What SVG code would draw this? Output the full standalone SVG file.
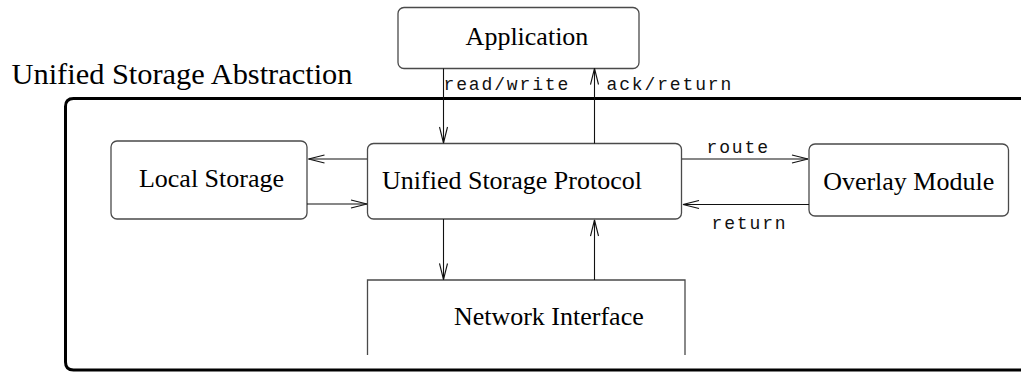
<svg xmlns="http://www.w3.org/2000/svg" width="1021" height="373" viewBox="0 0 1021 373">
  <style>
    .box { fill: #fff; stroke: #4a4a4a; stroke-width: 1.3; }
    .frame { fill: none; stroke: #000; stroke-width: 3; }
    .edge { fill: none; stroke: #111; stroke-width: 1.1; marker-end: url(#open); }
    .name { font-family: "Liberation Serif", "Times New Roman", serif; font-size: 26px; fill: #000; text-anchor: middle; }
    .title { font-family: "Liberation Serif", "Times New Roman", serif; font-size: 30.4px; fill: #000; }
    .tag { font-family: "Liberation Mono", "Courier New", monospace; font-size: 18px; letter-spacing: 1.87px; fill: #111; }
  </style>
  <defs>
    <marker id="open" markerUnits="userSpaceOnUse" viewBox="-17 -5 18 10" refX="0" refY="0" markerWidth="18" markerHeight="10" orient="auto">
      <path d="M-16,-4 L0,0 L-16,4" fill="none" stroke="#111" stroke-width="1.1"/>
    </marker>
  </defs>

  <rect width="1021" height="373" fill="#fff"/>

  <!-- abstraction boundary, open to the right -->
  <g id="abstraction">
    <path class="frame" d="M1025,98.5 H73.5 Q65.5,98.5 65.5,106.5 V362 Q65.5,370 73.5,370 H1025"/>
    <text class="title" x="11.5" y="83.5">Unified Storage Abstraction</text>
  </g>

  <g id="application">
    <rect class="box" x="398" y="7.5" width="241" height="61" rx="6"/>
    <text class="name" x="527" y="44.5">Application</text>
  </g>

  <g id="local-storage">
    <rect class="box" x="111" y="141" width="196" height="78" rx="6"/>
    <text class="name" x="211.5" y="187">Local Storage</text>
  </g>

  <g id="protocol">
    <rect class="box" x="367.5" y="143.5" width="314" height="75.5" rx="6"/>
    <text class="name" x="512" y="188.5">Unified Storage Protocol</text>
  </g>

  <g id="overlay">
    <rect class="box" x="809" y="144" width="199.5" height="72" rx="6"/>
    <text class="name" x="908.7" y="189.5">Overlay Module</text>
  </g>

  <g id="network">
    <path class="box" fill="none" d="M367.5,355 V280 H685 V355"/>
    <text class="name" x="548.8" y="325">Network Interface</text>
  </g>

  <g id="connectors">
    <path class="edge" d="M443.5,68.5 V143"/>
    <path class="edge" d="M594.5,143.5 V68.5"/>
    <path class="edge" d="M367,159 H308.5"/>
    <path class="edge" d="M307,204 H367"/>
    <path class="edge" d="M682,159 H808"/>
    <path class="edge" d="M809,204.5 H683"/>
    <path class="edge" d="M443.5,219 V279.5"/>
    <path class="edge" d="M594.5,280 V220"/>
    <text class="tag" x="443.5" y="90">read/write</text>
    <text class="tag" x="606.5" y="90">ack/return</text>
    <text class="tag" x="706.5" y="153">route</text>
    <text class="tag" x="711.5" y="229">return</text>
  </g>
</svg>
